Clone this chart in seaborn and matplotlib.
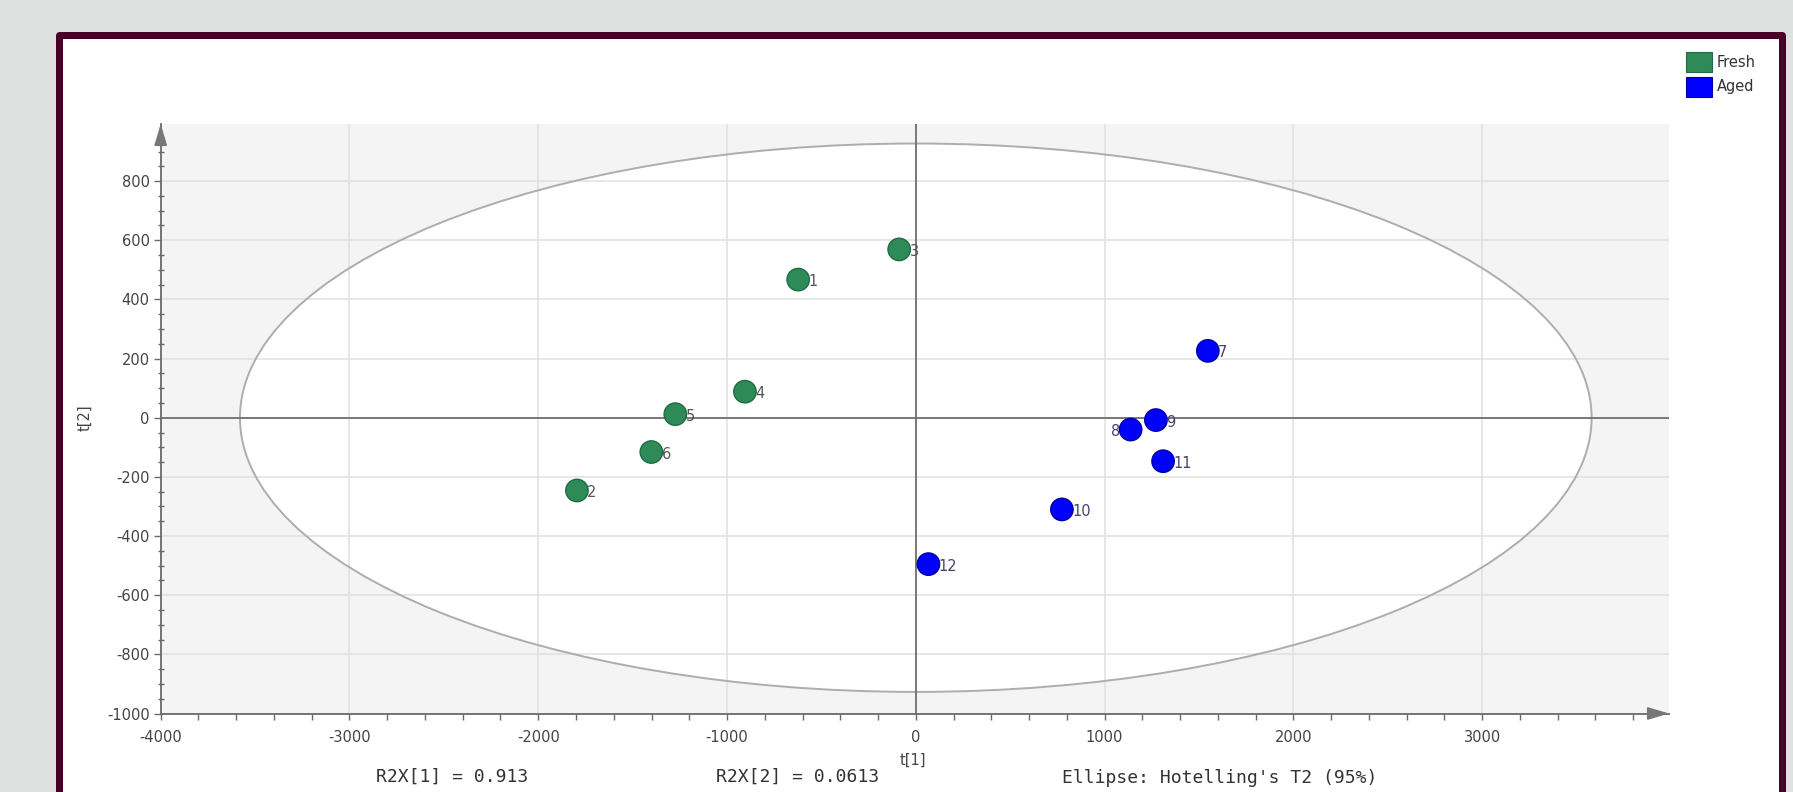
import numpy as np
import pandas as pd
import matplotlib
matplotlib.use("Agg")
import matplotlib.pyplot as plt
import seaborn as sns
from matplotlib.patches import Ellipse, Rectangle, Patch
from matplotlib.ticker import FixedLocator

# ---------------- data ----------------
sample_ids = ["1", "2", "3", "4", "5", "6", "7", "8", "9", "10", "11", "12"]
groups = ["Fresh"] * 6 + ["Aged"] * 6
t1_values = [-623, -1795, -88, -905, -1274, -1401, 1547, 1138, 1272, 774, 1310, 67]
t2_values = [467, -246, 569, 88, 12, -116, 226, -40, -8, -310, -147, -495]
group_names = ["Fresh", "Aged"]
group_colors = ["#2e8b57", "#0000ff"]
edge_colors = ["#1f6b42", "#0000a8"]
label_colors = ["#555555", "#45456b"]
x_ticks = [-4000, -3000, -2000, -1000, 0, 1000, 2000, 3000]
y_ticks = [-1000, -800, -600, -400, -200, 0, 200, 400, 600, 800]
ellipse_semi_x = 3580
ellipse_semi_y = 927
footer_texts = ["R2X[1] = 0.913", "R2X[2] = 0.0613", "Ellipse: Hotelling's T2 (95%)"]
x_label = "t[1]"
y_label = "t[2]"

df = pd.DataFrame({"t1": t1_values, "t2": t2_values, "group": groups, "id": sample_ids})

# ---------------- figure ----------------
W, H = 1793, 792
sns.set_theme(style="white")
plt.rcParams["font.family"] = ["DejaVu Sans"]
plt.rcParams["axes.unicode_minus"] = False

fig = plt.figure(figsize=(W / 100, H / 100), dpi=100, facecolor="#dfe1e0")

def fx(px):
    return px / W

def fy(py):
    return 1 - py / H

# maroon frame with white inside (drawn behind the axes)
frame = Rectangle((fx(58.5), fy(830)), fx(1781.5) - fx(58.5), fy(35.5) - fy(830),
                  transform=fig.transFigure, facecolor="white", edgecolor="#4a0026",
                  linewidth=7 * 0.72, joinstyle="round", zorder=-10)
fig.patches.append(frame)

ax_left, ax_right, ax_bottom, ax_top = 160.7, 1669, 713.5, 124
ax = fig.add_axes([fx(ax_left), fy(ax_bottom), fx(ax_right) - fx(ax_left), fy(ax_top) - fy(ax_bottom)])
ax.set_zorder(1)
ax.set_facecolor("#f4f4f4")
ax.set_xlim(-4000, 3990)
ax.set_ylim(-1000, 993)

# ellipse interior (white) below grid
ax.add_patch(Ellipse((0, 0), 2 * ellipse_semi_x, 2 * ellipse_semi_y, facecolor="white",
                     edgecolor="none", zorder=0.3))
ax.set_axisbelow(True)
ax.grid(True, which="major", color="#e0e0e0", linewidth=1.1)
ax.add_patch(Ellipse((0, 0), 2 * ellipse_semi_x, 2 * ellipse_semi_y, facecolor="none",
                     edgecolor="#adadad", linewidth=1.4, zorder=2))
ax.axhline(0, color="#707070", linewidth=1.3, zorder=2.2)
ax.axvline(0, color="#707070", linewidth=1.3, zorder=2.2)

# scatter
palette = dict(zip(group_names, group_colors))
sns.scatterplot(data=df, x="t1", y="t2", hue="group", palette=palette, s=260,
                linewidth=1.0, legend=False, ax=ax, zorder=3)
edge_map = dict(zip(group_names, edge_colors))
ax.collections[-1].set_edgecolors([edge_map[g] for g in df["group"]])

lab_map = dict(zip(group_names, label_colors))
for _, r in df.iterrows():
    if r["id"] == "8":
        ax.annotate(r["id"], (r["t1"], r["t2"]), xytext=(-7.5, -1.5), textcoords="offset points",
                    ha="right", va="center", fontsize=10.5, color=lab_map[r["group"]], zorder=4)
    else:
        ax.annotate(r["id"], (r["t1"], r["t2"]), xytext=(7.5, -1.5), textcoords="offset points",
                    ha="left", va="center", fontsize=10.5, color=lab_map[r["group"]], zorder=4)

# axes styling
for s in ["top", "right"]:
    ax.spines[s].set_visible(False)
for s in ["left", "bottom"]:
    ax.spines[s].set_color("#6a6a6a")
    ax.spines[s].set_linewidth(1.3)
    ax.spines[s].set_zorder(2.5)

ax.xaxis.set_major_locator(FixedLocator(x_ticks))
ax.yaxis.set_major_locator(FixedLocator(y_ticks))
ax.xaxis.set_minor_locator(FixedLocator(list(range(-4000, 3801, 200))))
ax.yaxis.set_minor_locator(FixedLocator(list(range(-1000, 951, 50))))
ax.set_xticklabels([str(v) for v in x_ticks])
ax.set_yticklabels([str(v) for v in y_ticks])
ax.tick_params(axis="x", which="both", direction="out", length=4, width=1, color="#6a6a6a",
               bottom=True, labelsize=10.5, labelcolor="#444444", pad=8)
ax.tick_params(axis="y", which="major", direction="out", length=5, width=1, color="#6a6a6a",
               left=True, labelsize=10.5, labelcolor="#444444", pad=3)
ax.tick_params(axis="y", which="minor", direction="inout", length=4, width=1, color="#6a6a6a",
               left=True)
ax.set_xlabel("")
ax.set_ylabel("")

# axis arrows
ax.annotate("", xy=(0, 1.0), xycoords="axes fraction", xytext=(0, -14), textcoords="offset points",
            arrowprops=dict(arrowstyle="-|>,head_length=1.0,head_width=0.3", color="#777777",
                            lw=1.3, shrinkA=0, shrinkB=0, mutation_scale=13), annotation_clip=False)
ax.annotate("", xy=(1.0, 0), xycoords="axes fraction", xytext=(-14, 0), textcoords="offset points",
            arrowprops=dict(arrowstyle="-|>,head_length=1.0,head_width=0.3", color="#777777",
                            lw=1.3, shrinkA=0, shrinkB=0, mutation_scale=13), annotation_clip=False)

# axis titles
fig.text(fx(913), fy(760), x_label, ha="center", va="center", fontsize=10.5, color="#444444")
fig.text(fx(85), fy(418), y_label, ha="center", va="center", rotation=90, fontsize=10.5, color="#444444")

# footer texts
mono = ["DejaVu Sans Mono"]
fig.text(fx(452), fy(777), footer_texts[0], ha="center", va="center", fontsize=13, family=mono, color="#333333")
fig.text(fx(798), fy(777), footer_texts[1], ha="center", va="center", fontsize=13, family=mono, color="#333333")
fig.text(fx(1220), fy(778), footer_texts[2], ha="center", va="center", fontsize=13, family=mono, color="#333333")

# legend
handles = [Patch(facecolor=c, edgecolor=e, linewidth=0.8) for c, e in zip(group_colors, edge_colors)]
fig.legend(handles, group_names, loc="upper left", bbox_to_anchor=(fx(1686), fy(52)),
           frameon=False, fontsize=10.5, handlelength=1.75, handleheight=1.75,
           handletextpad=0.35, labelspacing=0.3, borderpad=0, borderaxespad=0,
           labelcolor="#333333")

fig.savefig("out.png", dpi=100, facecolor=fig.get_facecolor())
